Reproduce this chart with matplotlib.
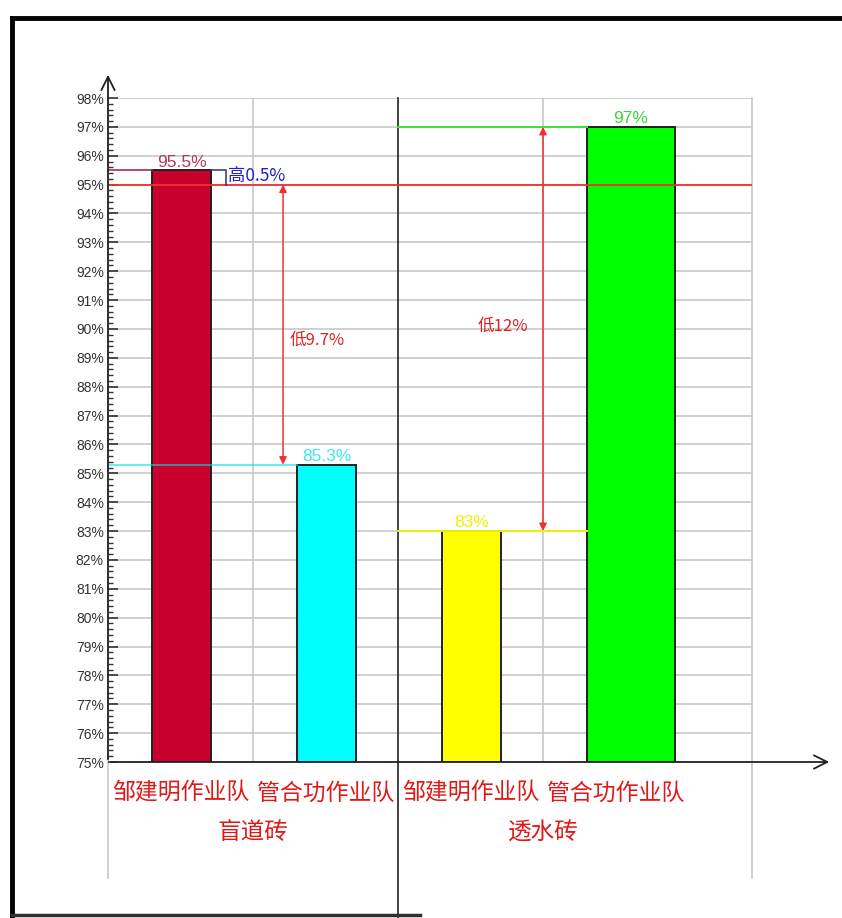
import matplotlib
matplotlib.use('Agg')
import matplotlib.pyplot as plt
from matplotlib.lines import Line2D
import numpy as np

plt.rcParams['font.family'] = ['Noto Sans CJK SC', 'DejaVu Sans']

# data
teams = ['邹建明作业队', '管合功作业队', '邹建明作业队', '管合功作业队']
groups = ['盲道砖', '透水砖']
rates = [95.5, 85.3, 83.0, 97.0]
rate_labels = ['95.5%', '85.3%', '83%', '97%']
bar_colors = ['#c8002d', '#00ffff', '#ffff00', '#00ff00']
label_colors = ['#b03a5b', '#40e8f0', '#f0f000', '#40d040']
bar_widths = [0.407, 0.407, 0.407, 0.607]
target = 95.0
gap_texts = ['高0.5%', '低9.7%', '低12%']
y_ticks = list(range(75, 99))

W, H = 842, 918
fig = plt.figure(figsize=(W / 100, H / 100), dpi=100)

# pixel -> figure helpers for the layout
def fx(px):
    return px / W

def fy(py):
    return 1 - py / H

ax = fig.add_axes([fx(108), fy(762), fx(752) - fx(108), fy(98) - fy(762)])
x0, x1 = -0.5, 3.941
ax.set_xlim(x0, x1)
ax.set_ylim(75, 98)
for s in ax.spines.values():
    s.set_visible(False)

pos = np.arange(len(rates))
lefts = pos - 0.5 + 0.303
bars = ax.bar(lefts, [r - 75 for r in rates], bottom=75, width=bar_widths, align='edge',
              color=bar_colors, edgecolor='#202020', linewidth=1.4, zorder=3)

# grid
ax.set_yticks(y_ticks)
ax.set_yticks(np.arange(75, 98.01, 0.2), minor=True)
ax.set_yticklabels([f'{t}%' for t in y_ticks], family=['Liberation Sans', 'DejaVu Sans'],
                   fontsize=10, color='#333333')
ax.tick_params(axis='y', which='major', direction='in', length=7, width=1.2, color='#333333', pad=3)
ax.tick_params(axis='y', which='minor', direction='in', length=3.5, width=1, color='#333333')
ax.set_xticks([])
ax.grid(axis='y', which='major', color='#c8c8c8', linewidth=1.2, zorder=1)

ybot = 75 - (878 - 762) / 28.87
ydiv = 75 - (918 - 762) / 28.87
for xv in [x0, x1]:
    ax.plot([xv, xv], [ybot, 98], color='#c8c8c8', lw=1.2, zorder=1, clip_on=False)
for xv in [0.5, 2.5]:
    ax.plot([xv, xv], [75, 98], color='#c8c8c8', lw=1.2, zorder=1)
ax.plot([1.5, 1.5], [ydiv, 98], color='#222222', lw=1.2, zorder=2, clip_on=False)

# axis arrows
ax.annotate('', xy=(x0, 98.9), xytext=(x0, 75), annotation_clip=False,
            arrowprops=dict(arrowstyle='->', color='#222222', lw=1.3, mutation_scale=24), zorder=5)
ax.annotate('', xy=(4.493, 75), xytext=(x0, 75), annotation_clip=False,
            arrowprops=dict(arrowstyle='->', color='#222222', lw=1.3, mutation_scale=24), zorder=5)

# value labels
for b, lab, c in zip(bars, rate_labels, label_colors):
    ax.text(b.get_x() + b.get_width() / 2, b.get_y() + b.get_height() + 0.02, lab,
            ha='center', va='bottom', fontsize=12.5, color=c,
            family=['Liberation Sans', 'DejaVu Sans'], zorder=6)

# reference lines
red_right = lefts[0] + bar_widths[0]
ax.plot([x0, x1], [target, target], color='#f03030', lw=1.3, zorder=4)
ax.plot([x0, lefts[0]], [rates[0], rates[0]], color='#a03050', lw=1.2, zorder=4)
ax.plot([red_right, 0.314, 0.314], [rates[0], rates[0], target], color='#303070', lw=1.1, zorder=4)
ax.plot([x0, lefts[1]], [rates[1], rates[1]], color='#00e0f0', lw=1.4, alpha=0.6, zorder=4)
ax.plot([1.5, lefts[3]], [rates[2], rates[2]], color='#f0f000', lw=1.4, zorder=4)
ax.plot([1.5, lefts[3]], [rates[3], rates[3]], color='#40e040', lw=1.4, zorder=4)

# gap arrows
ax.annotate('', xy=(0.707, target), xytext=(0.707, rates[1]),
            arrowprops=dict(arrowstyle='<|-|>', color='#f03030', lw=1.1, mutation_scale=11,
                            shrinkA=0, shrinkB=0), zorder=5)
ax.annotate('', xy=(2.5, rates[3]), xytext=(2.5, rates[2]),
            arrowprops=dict(arrowstyle='<|-|>', color='#f03030', lw=1.1, mutation_scale=11,
                            shrinkA=0, shrinkB=0), zorder=5)

ax.text(0.328, 95.3, gap_texts[0], ha='left', va='center', fontsize=12.5, color='#2020c8',
        zorder=6)
ax.text(0.755, 89.62, gap_texts[1], ha='left', va='center', fontsize=12, color='#e02020', zorder=6)
ax.text(2.052, 90.1, gap_texts[2], ha='left', va='center', fontsize=12, color='#e02020', zorder=6)

# category labels
for p, t in zip(pos, teams):
    ax.text(p, 75 - (793 - 762) / 28.87, t, ha='center', va='center', fontsize=16.5,
            color='#e01818', clip_on=False)
for gx, g in zip([0.5, 2.5], groups):
    ax.text(gx, 75 - (833 - 762) / 28.87, g, ha='center', va='center', fontsize=17,
            color='#e01818', clip_on=False)

# frame around the picture
fig.add_artist(Line2D([fx(12), 1], [fy(18), fy(18)], color='black', lw=3.5))
fig.add_artist(Line2D([fx(12), fx(12)], [fy(18), fy(916)], color='black', lw=3.5))
fig.add_artist(Line2D([fx(12), fx(420)], [fy(915), fy(915)], color='#303030', lw=2.5))

fig.savefig('out.png', dpi=100, facecolor='white')
